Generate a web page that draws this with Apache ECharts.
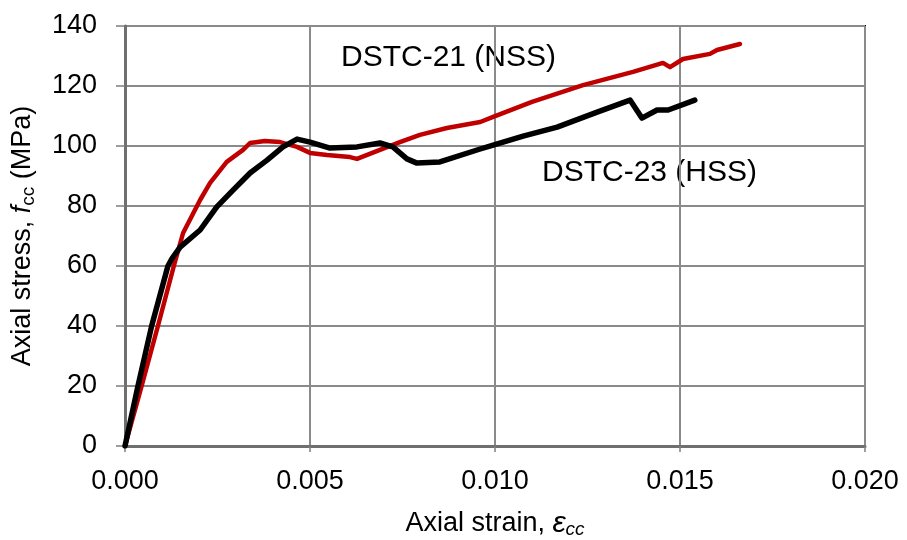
<!DOCTYPE html>
<html><head><meta charset="utf-8">
<script src="https://cdn.jsdelivr.net/npm/echarts@6/dist/echarts.min.js"></script>
<style>html,body{margin:0;padding:0;background:#fff}#c{width:907px;height:540px}</style>
</head><body><div id="c"></div>
<script>
const nssStrain = [0, 0.00045, 0.00089, 0.00132, 0.00157, 0.00203, 0.0023, 0.00275, 0.00319, 0.00338, 0.00378, 0.00419, 0.00465, 0.005, 0.00546, 0.00608, 0.00627, 0.00689, 0.00743, 0.00797, 0.0087, 0.0096, 0.00995, 0.0110, 0.01238, 0.01373, 0.01454, 0.01473, 0.01508, 0.01581, 0.016, 0.01662];
const nssStress = [0, 20, 40, 60, 71, 82, 87.7, 94.7, 98.7, 101, 101.7, 101.3, 99.7, 97.7, 97, 96.3, 95.7, 98.7, 101.3, 103.7, 106, 108, 109.7, 114.7, 120.3, 124.7, 127.7, 126.3, 129, 130.7, 132, 134];
const hssStrain = [0, 0.00035, 0.00072, 0.00116, 0.00127, 0.00149, 0.00203, 0.00248, 0.00292, 0.00338, 0.00384, 0.00427, 0.00465, 0.005, 0.00554, 0.00627, 0.00689, 0.00724, 0.00762, 0.00789, 0.00851, 0.0096, 0.00995, 0.01076, 0.01168, 0.01276, 0.01365, 0.01397, 0.01438, 0.01468, 0.0154];
const hssStress = [0, 20, 40, 60, 62.5, 66.3, 72, 79.7, 85.3, 91, 95.3, 99.7, 102.3, 101.3, 99.3, 99.7, 101, 99.7, 95.7, 94.3, 94.7, 99, 100.3, 103.3, 106.3, 111.3, 115.3, 109.3, 112, 112, 115.3];
const xTicks = ['0.000', '0.005', '0.010', '0.015', '0.020'];
const seriesNames = ['DSTC-21 (NSS)', 'DSTC-23 (HSS)'];

const zip = (a, b) => a.map((v, i) => [v, b[i]]);
const chart = echarts.init(document.getElementById('c'));
const F = 'Liberation Sans, Arial, sans-serif';
chart.setOption({
  animation: false,
  grid: {left: 125, right: 42, top: 26, bottom: 94, show: true, borderColor: '#000', borderWidth: 2, containLabel: false, outerBoundsMode: 'none'},
  xAxis: {
    type: 'value', min: 0, max: 0.02, interval: 0.005,
    axisLine: {show: true, onZero: false, lineStyle: {color: '#6f6f6f', width: 3}},
    axisTick: {show: true, inside: false, length: 6, lineStyle: {color: '#7f7f7f', width: 1.5}},
    splitLine: {show: true, lineStyle: {color: '#8a8a8a', width: 2}},
    axisLabel: {fontFamily: F, fontSize: 27, color: '#000', margin: 22, formatter: (v) => xTicks[Math.round(v / 0.005)]},
    name: '{a|Axial strain, }{i|ε}{s|cc}', nameLocation: 'middle', nameGap: 62,
    nameTextStyle: {rich: {
      a: {fontFamily: F, fontSize: 27, color: '#000'},
      i: {fontFamily: F, fontSize: 30, fontStyle: 'italic', color: '#000'},
      s: {fontFamily: F, fontSize: 19, fontStyle: 'italic', color: '#000', verticalAlign: 'bottom', padding: [12, 0, 0, 0]}
    }}
  },
  yAxis: {
    type: 'value', min: 0, max: 140, interval: 20,
    axisLine: {show: true, lineStyle: {color: '#6f6f6f', width: 3}},
    axisTick: {show: true, inside: false, length: 9, lineStyle: {color: '#7f7f7f', width: 1.5}},
    splitLine: {show: true, lineStyle: {color: '#8a8a8a', width: 2}},
    axisLabel: {fontFamily: F, fontSize: 27, color: '#000', margin: 28},
    name: '{a|Axial stress, }{i|f}{s|cc}{a| (MPa)}', nameLocation: 'middle', nameGap: 87, nameRotate: 90,
    nameTextStyle: {rich: {
      a: {fontFamily: F, fontSize: 27, color: '#000'},
      i: {fontFamily: F, fontSize: 27, fontStyle: 'italic', color: '#000'},
      s: {fontFamily: F, fontSize: 19, color: '#000', verticalAlign: 'bottom', padding: [12, 0, 0, 0]}
    }}
  },
  series: [
    {name: seriesNames[0], type: 'line', showSymbol: false, data: zip(nssStrain, nssStress), lineStyle: {color: '#c00000', width: 4.5, cap: 'round', join: 'round'}, z: 2},
    {name: seriesNames[1], type: 'line', showSymbol: false, data: zip(hssStrain, hssStress), lineStyle: {color: '#000', width: 5.5, cap: 'round', join: 'round'}, z: 3}
  ],
  graphic: [
    {type: 'text', x: 341, y: 58, style: {text: seriesNames[0], font: '30px Liberation Sans, Arial', fill: '#000', verticalAlign: 'middle'}},
    {type: 'text', x: 542, y: 173, style: {text: seriesNames[1], font: '30px Liberation Sans, Arial', fill: '#000', verticalAlign: 'middle'}}
  ]
});
</script></body></html>
